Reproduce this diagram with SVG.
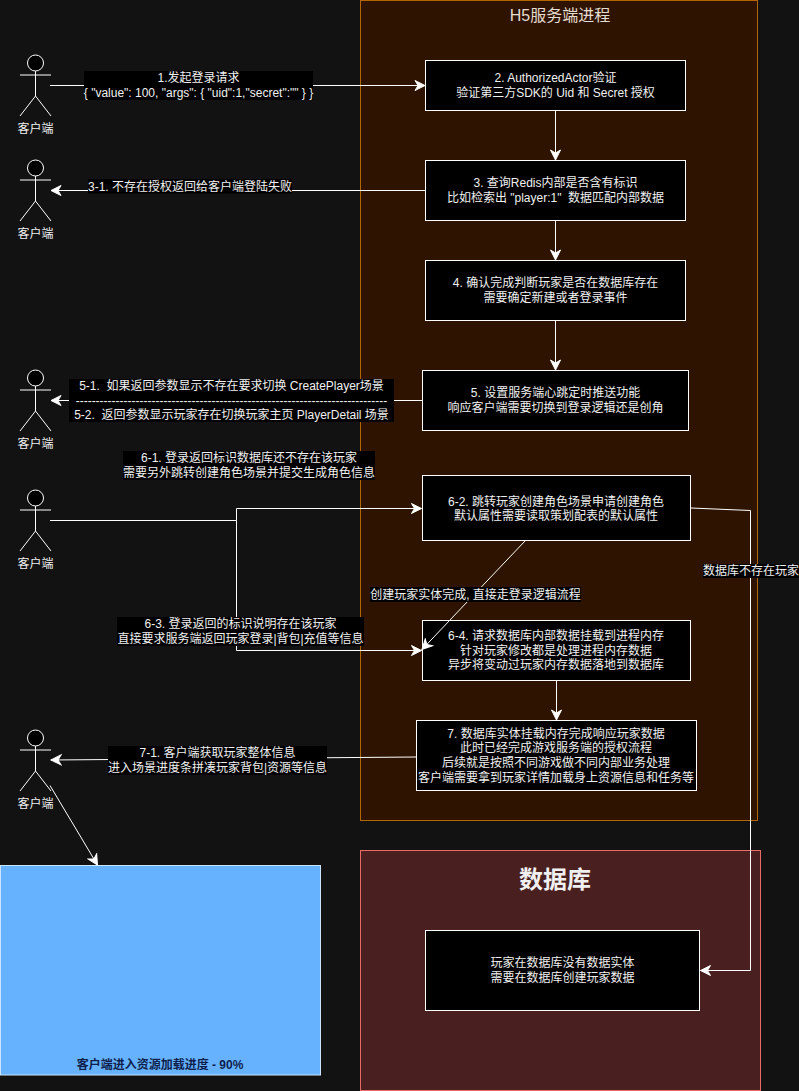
<svg xmlns="http://www.w3.org/2000/svg" width="799" height="1091" viewBox="0 0 799 1091">
<style>
text{font-family:"Liberation Sans","Noto Sans CJK SC",sans-serif;font-size:12px;fill:#f0f0f0;text-anchor:middle;white-space:pre}
.box{fill:#000;stroke:#fff;stroke-width:1}
.lbl{fill:#000}
.conn{fill:none;stroke:#fff;stroke-width:1}
.act{fill:none;stroke:#fff;stroke-width:1}
.head{fill:#000;stroke:#fff;stroke-width:1}
</style>
<defs>
<marker id="arrow" markerUnits="userSpaceOnUse" markerWidth="14" markerHeight="14" refX="11" refY="7" orient="auto">
<path d="M1,2 L11,7 L1,12 L4,7 Z" fill="#fff" stroke="#fff" stroke-width="1"/>
</marker>
<g id="actor">
<circle class="head" cx="35.5" cy="8" r="8"/>
<path class="act" d="M35.5,16V41M20,20H51M35.5,41L20,61M35.5,41L51,61"/>
<text x="35.5" y="78">客户端</text>
</g>
</defs>
<rect width="799" height="1091" fill="#121212"/>
<g id="server-process">
<rect x="360.5" y="0.5" width="397" height="820" fill="#2e1400" stroke="#b46504"/>
<text x="560" y="21" style="font-size:16px;fill:#e6dccf">H5服务端进程</text>
</g>
<g id="database">
<rect x="360.5" y="850.5" width="400" height="240" fill="#4a1f1f" stroke="#ea6b66"/>
<text x="555" y="888" style="font-size:24px;font-weight:bold">数据库</text>
</g>
<use id="actor-1" href="#actor" y="55"/>
<use id="actor-2" href="#actor" y="160"/>
<use id="actor-3" href="#actor" y="370"/>
<use id="actor-4" href="#actor" y="490"/>
<use id="actor-5" href="#actor" y="730"/>
<g id="node-2"><rect class="box" x="425.5" y="60.5" width="260" height="50"/><text x="555.5" y="82">2. AuthorizedActor验证</text><text x="555.5" y="96.5">验证第三方SDK的 Uid 和 Secret 授权</text></g>
<g id="node-3"><rect class="box" x="425.5" y="160.5" width="260" height="60"/><text x="555.5" y="187">3. 查询Redis内部是否含有标识</text><text x="555.5" y="202">比如检索出 "player:1"  数据匹配内部数据</text></g>
<g id="node-4"><rect class="box" x="425.5" y="260.5" width="260" height="60"/><text x="555.5" y="287">4. 确认完成判断玩家是否在数据库存在</text><text x="555.5" y="302">需要确定新建或者登录事件</text></g>
<g id="node-5"><rect class="box" x="422.5" y="370.5" width="266" height="60"/><text x="555.5" y="397">5. 设置服务端心跳定时推送功能</text><text x="555.5" y="412">响应客户端需要切换到登录逻辑还是创角</text></g>
<g id="node-6-2"><rect class="box" x="422.5" y="475.5" width="268" height="65"/><text x="556" y="505.5">6-2. 跳转玩家创建角色场景申请创建角色</text><text x="556" y="520">默认属性需要读取策划配表的默认属性</text></g>
<g id="node-6-4"><rect class="box" x="422.5" y="620.5" width="268" height="60"/><text x="556" y="640">6-4. 请求数据库内部数据挂载到进程内存</text><text x="556" y="654.5">针对玩家修改都是处理进程内存数据</text><text x="556" y="669">异步将变动过玩家内存数据落地到数据库</text></g>
<g id="node-7"><rect class="box" x="416.5" y="720.5" width="280" height="70"/><text x="556" y="738">7. 数据库实体挂载内存完成响应玩家数据</text><text x="556" y="752">此时已经完成游戏服务端的授权流程</text><text x="556" y="767">后续就是按照不同游戏做不同内部业务处理</text><text x="556" y="781.5">客户端需要拿到玩家详情加载身上资源信息和任务等</text></g>
<g id="node-db"><rect class="box" x="425.5" y="930.5" width="274" height="80"/><text x="562.5" y="967">玩家在数据库没有数据实体</text><text x="562.5" y="981.5">需要在数据库创建玩家数据</text></g>
<g id="node-loading"><rect x="0.5" y="865.5" width="320" height="209.5" fill="#66b2ff" stroke="#cce5ff"/><text x="160" y="1069" style="font-weight:bold;fill:#0f1f4d">客户端进入资源加载进度 - 90%</text></g>
<g id="connectors">
<path class="conn" marker-end="url(#arrow)" d="M50,85.5H425"/>
<path class="conn" marker-end="url(#arrow)" d="M555.5,110.5V160"/>
<path class="conn" marker-end="url(#arrow)" d="M425.5,190.5H51"/>
<path class="conn" marker-end="url(#arrow)" d="M555.5,220.5V260"/>
<path class="conn" marker-end="url(#arrow)" d="M555.5,320.5V370"/>
<path class="conn" marker-end="url(#arrow)" d="M422,400.5H51"/>
<path class="conn" marker-end="url(#arrow)" d="M50,520.5H236.5V508.5H421.5"/>
<path class="conn" marker-end="url(#arrow)" d="M236.5,520.5V650.5H421.5"/>
<path class="conn" marker-end="url(#arrow)" d="M691,508L750.5,510.5V970.5H700.5"/>
<path class="conn" marker-end="url(#arrow)" d="M525,541L422,649.5"/>
<path class="conn" marker-end="url(#arrow)" d="M556.5,680.5V720"/>
<path class="conn" marker-end="url(#arrow)" d="M416,757L51,760"/>
<path class="conn" marker-end="url(#arrow)" d="M50,785.5L97.5,865"/>
</g>
<g id="edge-labels">
<g id="label-1"><rect class="lbl" x="84" y="71" width="229" height="29"/><text x="198.5" y="82">1.发起登录请求</text><text x="198.5" y="96.5">{ "value": 100, "args": { "uid":1,"secret":"" } }</text></g>
<g id="label-3-1"><rect class="lbl" x="88" y="179" width="204" height="14.5"/><text x="190" y="190.5">3-1. 不存在授权返回给客户端登陆失败</text></g>
<g id="label-5"><rect class="lbl" x="69" y="379" width="325" height="43"/><text x="231.5" y="390">5-1.  如果返回参数显示不存在要求切换 CreatePlayer场景</text><text x="231.5" y="404.5">------------------------------------------------------------------------------</text><text x="231.5" y="419">5-2.  返回参数显示玩家存在切换玩家主页 PlayerDetail 场景</text></g>
<g id="label-6-1"><rect class="lbl" x="123" y="451" width="252" height="29"/><text x="249" y="462">6-1. 登录返回标识数据库还不存在该玩家</text><text x="249" y="477">需要另外跳转创建角色场景并提交生成角色信息</text></g>
<g id="label-create"><rect class="lbl" x="370" y="587" width="211" height="15"/><text x="475.5" y="598.5">创建玩家实体完成, 直接走登录逻辑流程</text></g>
<g id="label-nodb"><rect class="lbl" x="703" y="564" width="96" height="14"/><text x="751" y="575">数据库不存在玩家</text></g>
<g id="label-6-3"><rect class="lbl" x="117" y="617" width="247" height="29"/><text x="240.5" y="628">6-3. 登录返回的标识说明存在该玩家</text><text x="240.5" y="643">直接要求服务端返回玩家登录|背包|充值等信息</text></g>
<g id="label-7-1"><rect class="lbl" x="108" y="746" width="219" height="29"/><text x="217.5" y="757">7-1. 客户端获取玩家整体信息</text><text x="217.5" y="772">进入场景进度条拼凑玩家背包|资源等信息</text></g>
</g>
</svg>
